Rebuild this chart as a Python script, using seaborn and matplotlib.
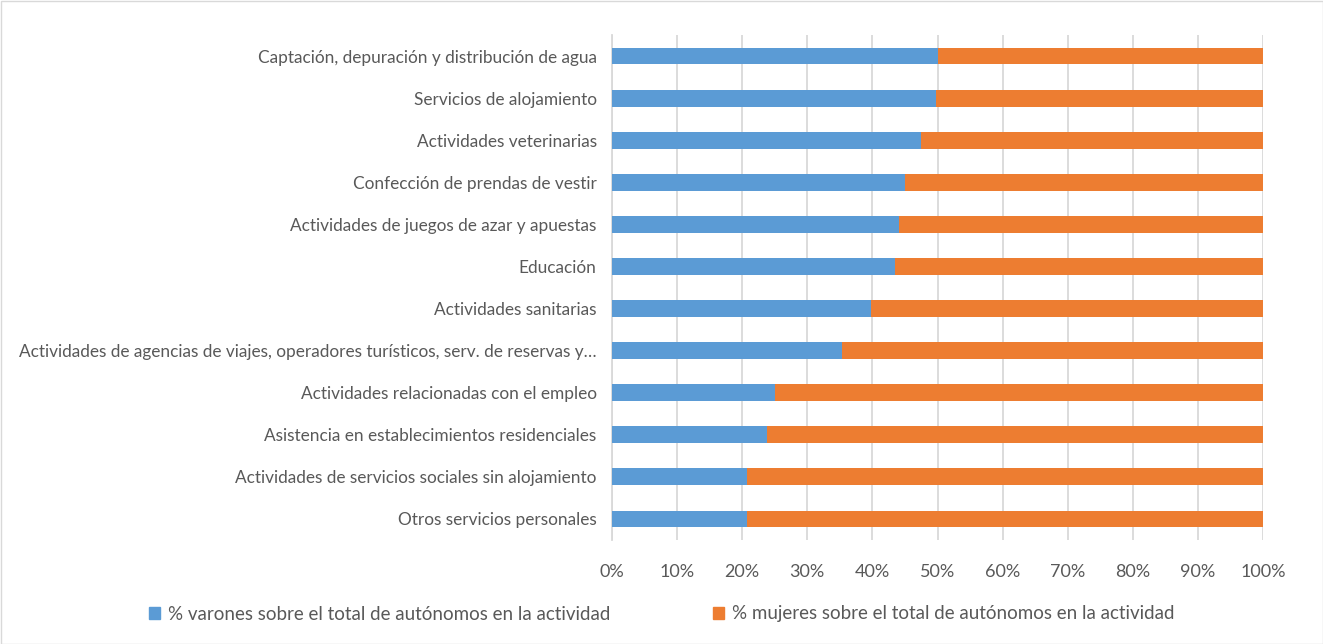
import matplotlib
matplotlib.use("Agg")
import matplotlib.pyplot as plt
import seaborn as sns
import pandas as pd
import numpy as np
from matplotlib.patches import Patch, Rectangle
from matplotlib.ticker import PercentFormatter

categories = [
    "Captación, depuración y distribución de agua",
    "Servicios de alojamiento",
    "Actividades veterinarias",
    "Confección de prendas de vestir",
    "Actividades de juegos de azar y apuestas",
    "Educación",
    "Actividades sanitarias",
    "Actividades de agencias de viajes, operadores turísticos, serv. de reservas y…",
    "Actividades relacionadas con el empleo",
    "Asistencia en establecimientos residenciales",
    "Actividades de servicios sociales sin alojamiento",
    "Otros servicios personales",
]
varones = [50.1, 49.8, 47.5, 45.0, 44.1, 43.4, 39.8, 35.4, 25.0, 23.8, 20.8, 20.7]
mujeres = [100 - v for v in varones]
series_labels = ["% varones sobre el total de autónomos en la actividad",
                 "% mujeres sobre el total de autónomos en la actividad"]
xticks = [0, 10, 20, 30, 40, 50, 60, 70, 80, 90, 100]

blue = "#5b9bd5"
orange = "#ed7d31"

sns.set_theme(style="white")
plt.rcParams['font.family'] = ['Lato', 'DejaVu Sans']

df = pd.DataFrame({"cat": categories, "varones": varones, "mujeres": mujeres})
df["total"] = df["varones"] + df["mujeres"]

fig = plt.figure(figsize=(13.23, 6.44), dpi=100)
ax = fig.add_axes([612/1323, 1-540/644, 651/1323, 505/644])

sns.barplot(data=df, y="cat", x="total", color=orange, width=0.4, ax=ax,
            saturation=1, orient="h", zorder=2, linewidth=0)
sns.barplot(data=df, y="cat", x="varones", color=blue, width=0.4, ax=ax,
            saturation=1, orient="h", zorder=3, linewidth=0)

ax.set_xlim(0, 100)
ax.set_ylim(11.5, -0.5)
ax.set_xticks(xticks)
ax.xaxis.set_major_formatter(PercentFormatter(decimals=0))
ax.set_xlabel("")
ax.set_ylabel("")
ax.grid(axis="x", color="#d9d9d9", linewidth=1.3, zorder=0)
ax.set_axisbelow(True)
for s in ["top", "right", "bottom"]:
    ax.spines[s].set_visible(False)
ax.spines["left"].set_color("#d9d9d9")
ax.spines["left"].set_linewidth(1.3)
ax.tick_params(axis="both", length=0, colors="#595959")
ax.tick_params(axis="y", pad=11, labelsize=12.4)
ax.tick_params(axis="x", pad=17, labelsize=13)

handles = [Patch(color=blue, label=series_labels[0]),
           Patch(color=orange, label=series_labels[1])]
leg = fig.legend(handles=handles, loc="center", bbox_to_anchor=(0.5, 1-614/644),
                 ncol=2, frameon=False, fontsize=13.5, handlelength=0.6,
                 handleheight=0.6, handletextpad=0.4, columnspacing=5.5)
for t in leg.get_texts():
    t.set_color("#595959")

fig.patches.append(Rectangle((0.5/1323, 0.5/644), 1-1/1323, 1-1/644, transform=fig.transFigure,
                             fill=False, edgecolor="#d9d9d9", linewidth=1))

fig.savefig("out.png", dpi=100, facecolor="white")
